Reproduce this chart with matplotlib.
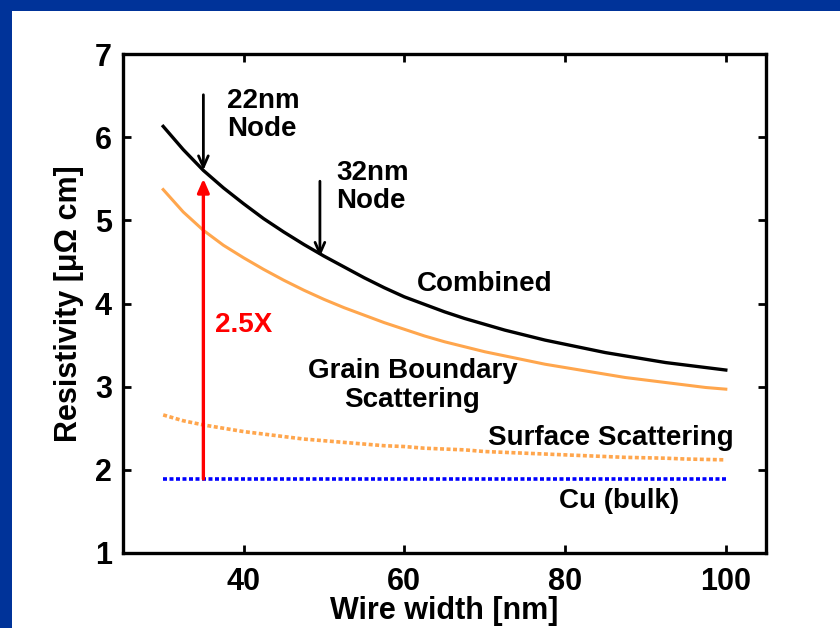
import matplotlib
matplotlib.use("Agg")
import matplotlib.pyplot as plt
from matplotlib.patches import Rectangle

plt.rcParams['font.family'] = ['Liberation Sans', 'DejaVu Sans']
plt.rcParams['font.weight'] = 'bold'

width = [30, 32.5, 35, 37.5, 40, 42.5, 45, 47.5, 50, 52.5, 55, 57.5, 60, 62.5, 65,
         67.5, 70, 72.5, 75, 77.5, 80, 82.5, 85, 87.5, 90, 92.5, 95, 97.5, 100]
combined = [6.13, 5.85, 5.60, 5.39, 5.20, 5.02, 4.86, 4.71, 4.57, 4.44, 4.31, 4.19, 4.08, 3.99, 3.90,
            3.82, 3.75, 3.68, 3.62, 3.56, 3.51, 3.46, 3.41, 3.37, 3.33, 3.29, 3.26, 3.23, 3.20]
grain = [5.37, 5.10, 4.88, 4.70, 4.55, 4.41, 4.28, 4.16, 4.05, 3.95, 3.86, 3.77, 3.69, 3.61, 3.54,
         3.48, 3.42, 3.37, 3.32, 3.27, 3.23, 3.19, 3.15, 3.11, 3.08, 3.05, 3.02, 2.99, 2.97]
surface = [2.66, 2.59, 2.54, 2.50, 2.46, 2.43, 2.40, 2.37, 2.35, 2.33, 2.31, 2.29, 2.28, 2.26, 2.25,
           2.24, 2.22, 2.21, 2.20, 2.19, 2.18, 2.17, 2.16, 2.15, 2.145, 2.14, 2.13, 2.125, 2.12]
cu_width = [30, 100]
cu_bulk = [1.89, 1.89]
xticks = [40, 60, 80, 100]
yticks = [1, 2, 3, 4, 5, 6, 7]

fig = plt.figure(figsize=(8.4, 6.28), dpi=100)
fig.patch.set_facecolor('white')
blue = '#003399'
fig.patches.append(Rectangle((0, 1 - 11/628), 1, 11/628, transform=fig.transFigure,
                             facecolor=blue, edgecolor='none', zorder=0))
fig.patches.append(Rectangle((0, 0), 12/840, 1, transform=fig.transFigure,
                             facecolor=blue, edgecolor='none', zorder=0))

ax = fig.add_axes([123/840, 1 - 553/628, (766 - 123)/840, (553 - 54)/628])
orange = '#ffa64d'
ax.plot(width, combined, color='black', lw=2.4, zorder=4)
ax.plot(width, grain, color=orange, lw=2.2, zorder=3)
ax.plot(width, surface, color=orange, lw=2.6, linestyle=(0, (1.1, 0.7)), zorder=3)
ax.plot(cu_width, cu_bulk, color='#0000ff', lw=2.6, linestyle=(0, (1.1, 0.7)), zorder=3)

ax.set_xlim(25, 105)
ax.set_ylim(1, 7)
ax.set_xticks(xticks)
ax.set_yticks(yticks)
ax.tick_params(direction='in', length=6, width=2, top=True, right=True,
               labelsize=22)
ax.tick_params(axis='x', pad=10)
ax.tick_params(axis='y', pad=8)
for lab in ax.get_xticklabels() + ax.get_yticklabels():
    lab.set_fontweight('bold')
for s in ax.spines.values():
    s.set_linewidth(2.4)

ax.set_xlabel('Wire width [nm]', fontsize=22, fontweight='bold', labelpad=-1)
ax.set_ylabel('Resistivity [μΩ cm]', fontsize=22, fontweight='bold', labelpad=8)

# red 2.5X arrow
ax.annotate('', xy=(35, 5.5), xytext=(35, 1.89),
            arrowprops=dict(arrowstyle='-|>,head_length=0.8,head_width=0.35',
                            color='#ff0000', lw=2.4, shrinkA=0, shrinkB=0), zorder=5)
ax.text(40.0, 3.74, '2.5X', color='#ff0000', fontsize=20, fontweight='bold',
        ha='center', va='center')

# node arrows
ax.annotate('', xy=(35, 5.6), xytext=(35, 6.51),
            arrowprops=dict(arrowstyle='->,head_length=0.8,head_width=0.35',
                            color='black', lw=2.0, shrinkA=0, shrinkB=0), zorder=5)
ax.annotate('', xy=(49.5, 4.56), xytext=(49.5, 5.47),
            arrowprops=dict(arrowstyle='->,head_length=0.8,head_width=0.35',
                            color='black', lw=2.0, shrinkA=0, shrinkB=0), zorder=5)
ax.text(37.9, 6.59, '22nm\nNode', fontsize=20, fontweight='bold', ha='left', va='top',
        linespacing=1.1)
ax.text(51.5, 5.73, '32nm\nNode', fontsize=20, fontweight='bold', ha='left', va='top',
        linespacing=1.1)

ax.text(70.0, 4.24, 'Combined', fontsize=20, fontweight='bold', ha='center', va='center')
ax.text(61.0, 3.01, 'Grain Boundary\nScattering', fontsize=20, fontweight='bold',
        ha='center', va='center', multialignment='center', linespacing=1.15)
ax.text(85.7, 2.38, 'Surface Scattering', fontsize=20, fontweight='bold', ha='center', va='center')
ax.text(86.7, 1.62, 'Cu (bulk)', fontsize=20, fontweight='bold', ha='center', va='center')

fig.savefig('out.png', dpi=100)
